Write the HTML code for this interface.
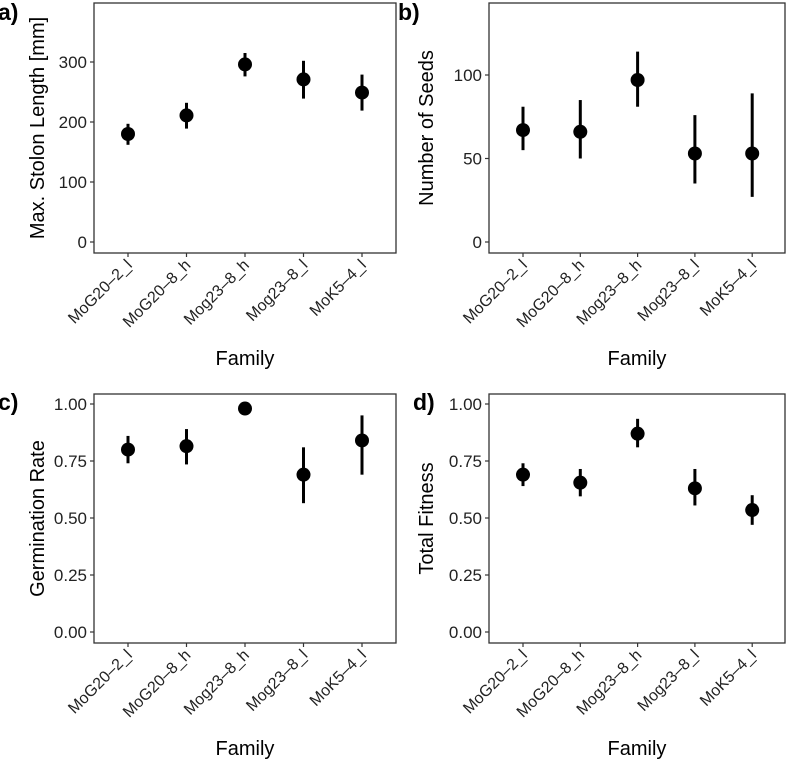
<!DOCTYPE html>
<html><head><meta charset="utf-8"><style>
body{margin:0;background:#fff;}
svg{display:block;font-family:"Liberation Sans",sans-serif;}
</style></head><body>
<svg id="c" width="787" height="762"></svg>
<script>
const categories=["MoG20\u20132_l","MoG20\u20138_h","Mog23\u20138_h","Mog23\u20138_l","MoK5\u20134_l"];
const lengthMean=[180,211,296,271,249];
const lengthLo=[162,189,276,239,219];
const lengthHi=[197,232,315,302,279];
const seedsMean=[67,66,97,53,53];
const seedsLo=[55,50,81,35,27];
const seedsHi=[81,85,114,76,89];
const germMean=[0.80,0.815,0.98,0.69,0.84];
const germLo=[0.74,0.735,0.975,0.565,0.69];
const germHi=[0.86,0.89,0.985,0.81,0.95];
const fitMean=[0.69,0.655,0.87,0.63,0.535];
const fitLo=[0.64,0.595,0.81,0.555,0.47];
const fitHi=[0.74,0.715,0.935,0.715,0.60];
const ticksA=[0,100,200,300];
const ticksB=[0,50,100];
const ticksC=["0.00","0.25","0.50","0.75","1.00"];

const svg=document.getElementById('c');
const NS="http://www.w3.org/2000/svg";
function el(t,a,p){const e=document.createElementNS(NS,t);for(const k in a)e.setAttribute(k,a[k]);(p||svg).appendChild(e);return e;}

function panel(o){
  const g=el('g',{});
  
  
  const ys=v=>o.y0+(v-o.v0)*(o.y1-o.y0)/(o.v1-o.v0);
  const xs=i=>o.xs0+i*o.xstep;
  const box=el('rect',{x:o.L,y:o.T,width:o.R-o.L,height:o.B-o.T,fill:'none',stroke:'#333','stroke-width':1.3},g);
  
  
  o.ticks.forEach(t=>{
    const v=parseFloat(t), y=ys(v);
    el('line',{x1:o.L-4,x2:o.L,y1:y,y2:y,stroke:'#333','stroke-width':1.2},g);
    const tx=el('text',{x:o.L-7,y:y+6,'text-anchor':'end','font-size':17,fill:'#222'},g);
    tx.textContent=t;
    
    
  });
  categories.forEach((c,i)=>{
    const x=xs(i);
    el('line',{x1:x,x2:x,y1:o.B,y2:o.B+4,stroke:'#333','stroke-width':1.2},g);
    const tx=el('text',{x:0,y:0,'text-anchor':'end','font-size':16,fill:'#222',transform:`translate(${x+5},${o.B+13}) rotate(-45)`},g);
    tx.textContent=c;
    
    
    const eb=el('line',{x1:x,x2:x,y1:ys(o.lo[i]),y2:ys(o.hi[i]),stroke:'#000','stroke-width':3},g);
    
    
    const pt=el('circle',{cx:x,cy:ys(o.mean[i]),r:7,fill:'#000'},g);
    
    
  });
  const xt=el('text',{x:(o.L+o.R)/2,y:o.B+112,'text-anchor':'middle','font-size':20,fill:'#000'},g);
  xt.textContent='Family';
  
  
  const yt=el('text',{x:0,y:0,'text-anchor':'middle','font-size':20,fill:'#000',transform:`translate(${o.ytx},${(o.T+o.B)/2}) rotate(-90)`},g);
  yt.textContent=o.ytitle;
  
  
  const pl=el('text',{x:o.plx,y:o.ply,'font-size':23,'font-weight':'bold',fill:'#000'},g);
  pl.textContent=o.id+')';
  
  
}
panel({id:'a',L:94,R:396,T:3,B:253,y0:242,y1:62,v0:0,v1:300,xs0:128,xstep:58.5,ticks:ticksA.map(String),mean:lengthMean,lo:lengthLo,hi:lengthHi,ytitle:'Max. Stolon Length [mm]',ytx:44,plx:-2,ply:20});
panel({id:'b',L:489,R:785,T:3,B:253,y0:242,y1:75,v0:0,v1:100,xs0:523,xstep:57.3,ticks:ticksB.map(String),mean:seedsMean,lo:seedsLo,hi:seedsHi,ytitle:'Number of Seeds',ytx:433,plx:398,ply:20});
panel({id:'c',L:94,R:396,T:394,B:643,y0:632,y1:404,v0:0,v1:1,xs0:128,xstep:58.5,ticks:ticksC,mean:germMean,lo:germLo,hi:germHi,ytitle:'Germination Rate',ytx:44,plx:-2,ply:410});
panel({id:'d',L:489,R:785,T:394,B:643,y0:632,y1:404,v0:0,v1:1,xs0:523,xstep:57.3,ticks:ticksC,mean:fitMean,lo:fitLo,hi:fitHi,ytitle:'Total Fitness',ytx:433,plx:413,ply:410});
</script>
</body></html>
